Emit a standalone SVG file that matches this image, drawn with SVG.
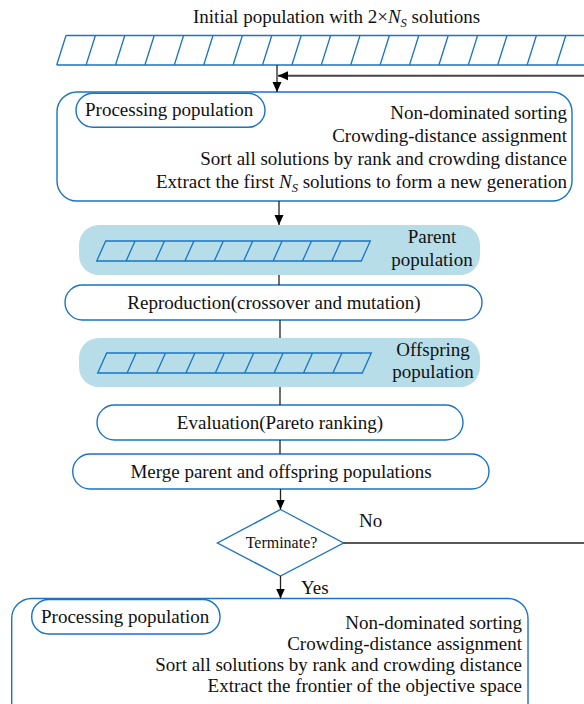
<svg xmlns="http://www.w3.org/2000/svg" width="584" height="704" viewBox="0 0 584 704">
<style>
text{font-family:"Liberation Serif","Times New Roman",serif;font-size:19px;fill:#111}
.box{fill:#fff;stroke:#1874c6;stroke-width:1.4}
.band{fill:#b7dde8;stroke:none}
.stripe{fill:none;stroke:#1874c6;stroke-width:1.3}
.con{fill:none;stroke:#222;stroke-width:1.3}
.fb{fill:none;stroke:#444;stroke-width:2}
.r{text-anchor:end}
.m{text-anchor:middle}
.it{font-style:italic}
</style>
<defs>
<marker id="ah" markerUnits="userSpaceOnUse" markerWidth="10" markerHeight="10" viewBox="0 0 10 10" refX="10" refY="5" orient="auto">
<path d="M0,0.5 L10,5 L0,9.5 Z" fill="#000"/>
</marker>
</defs>

<g id="init-pop">
<text x="193" y="23">Initial population with 2×<tspan class="it">N</tspan><tspan class="it" font-size="12.5" dy="4">S</tspan><tspan dy="-4"> solutions</tspan></text>
<path class="stripe" d="M66,35.5 H600 M56.7,65 H600
M56.7,65 L66,35.5 M86.1,65 L95.4,35.5 M115.5,65 L124.8,35.5 M144.9,65 L154.2,35.5 M174.3,65 L183.6,35.5 M203.7,65 L213,35.5 M233.1,65 L242.4,35.5 M262.5,65 L271.8,35.5 M291.9,65 L301.2,35.5 M321.3,65 L330.6,35.5 M350.7,65 L360,35.5 M380.1,65 L389.4,35.5 M409.5,65 L418.8,35.5 M438.9,65 L448.2,35.5 M468.3,65 L477.6,35.5 M497.7,65 L507,35.5 M527.1,65 L536.4,35.5 M556.5,65 L565.8,35.5"/>
</g>

<g id="process-top">
<rect class="box" x="57" y="92" width="515" height="109" rx="20"/>
<rect class="box" x="76" y="93.3" width="189" height="34" rx="17"/>
<text x="85" y="116">Processing population</text>
<text class="r" x="567" y="119">Non-dominated sorting</text>
<text class="r" x="567" y="142">Crowding-distance assignment</text>
<text class="r" x="567" y="165">Sort all solutions by rank and crowding distance</text>
<text class="r" x="567" y="188">Extract the first <tspan class="it">N</tspan><tspan class="it" font-size="12.5" dy="4">S</tspan><tspan dy="-4"> solutions to form a new generation</tspan></text>
</g>

<g id="parent-pop">
<rect class="band" x="79" y="225" width="401" height="50" rx="20"/>
<path class="stripe" d="M105.7,241 H370.3 L361.3,261 H96.7 Z M126.1,261 L135.1,241 M155.5,261 L164.5,241 M184.9,261 L193.9,241 M214.3,261 L223.3,241 M243.7,261 L252.7,241 M273.1,261 L282.1,241 M302.5,261 L311.5,241 M331.9,261 L340.9,241"/>
<text class="m" x="432" y="243">Parent</text>
<text class="m" x="432" y="266">population</text>
</g>

<g id="reproduction">
<rect class="box" x="65" y="285" width="417" height="35" rx="17.5"/>
<text class="m" x="274" y="309">Reproduction(crossover and mutation)</text>
</g>

<g id="offspring-pop">
<rect class="band" x="79" y="338" width="401" height="49" rx="20"/>
<path class="stripe" d="M106.7,353 H371.3 L362.3,373 H97.7 Z M127.1,373 L136.1,353 M156.5,373 L165.5,353 M185.9,373 L194.9,353 M215.3,373 L224.3,353 M244.7,373 L253.7,353 M274.1,373 L283.1,353 M303.5,373 L312.5,353 M332.9,373 L341.9,353"/>
<text class="m" x="433" y="356">Offspring</text>
<text class="m" x="433" y="378">population</text>
</g>

<g id="evaluation">
<rect class="box" x="97" y="405" width="366" height="35" rx="17.5"/>
<text class="m" x="280" y="429">Evaluation(Pareto ranking)</text>
</g>

<g id="merge">
<rect class="box" x="72.7" y="454" width="416.3" height="35" rx="17.5"/>
<text class="m" x="281" y="478">Merge parent and offspring populations</text>
</g>

<g id="terminate">
<path class="box" d="M280.5,509.5 L343.5,543 L280.5,576 L217.5,543 Z"/>
<text class="m" x="281.5" y="548" style="font-size:16px">Terminate?</text>
</g>

<g id="process-bottom">
<rect class="box" x="11.7" y="598.5" width="516.3" height="130" rx="20"/>
<rect class="box" x="31.7" y="599.5" width="188.3" height="34.5" rx="17"/>
<text x="41" y="623">Processing population</text>
<text class="r" x="522" y="629">Non-dominated sorting</text>
<text class="r" x="522" y="650">Crowding-distance assignment</text>
<text class="r" x="522" y="671">Sort all solutions by rank and crowding distance</text>
<text class="r" x="522" y="692">Extract the frontier of the objective space</text>
</g>

<g id="connectors">
<path class="con" d="M277,65 V92" marker-end="url(#ah)"/>
<path class="fb" d="M600,75.7 H278" marker-end="url(#ah)"/>
<path class="con" d="M279,201 V225" marker-end="url(#ah)"/>
<path class="con" d="M279,275 V285"/>
<path class="con" d="M280,320 V338"/>
<path class="con" d="M280,387 V405"/>
<path class="con" d="M280,440 V454"/>
<path class="con" d="M280.5,489 V509.5" marker-end="url(#ah)"/>
<path class="con" d="M343.5,543 H600"/>
<path class="con" d="M280.5,576 V598.5" marker-end="url(#ah)"/>
<text x="359" y="527">No</text>
<text x="301" y="594">Yes</text>
</g>
</svg>
